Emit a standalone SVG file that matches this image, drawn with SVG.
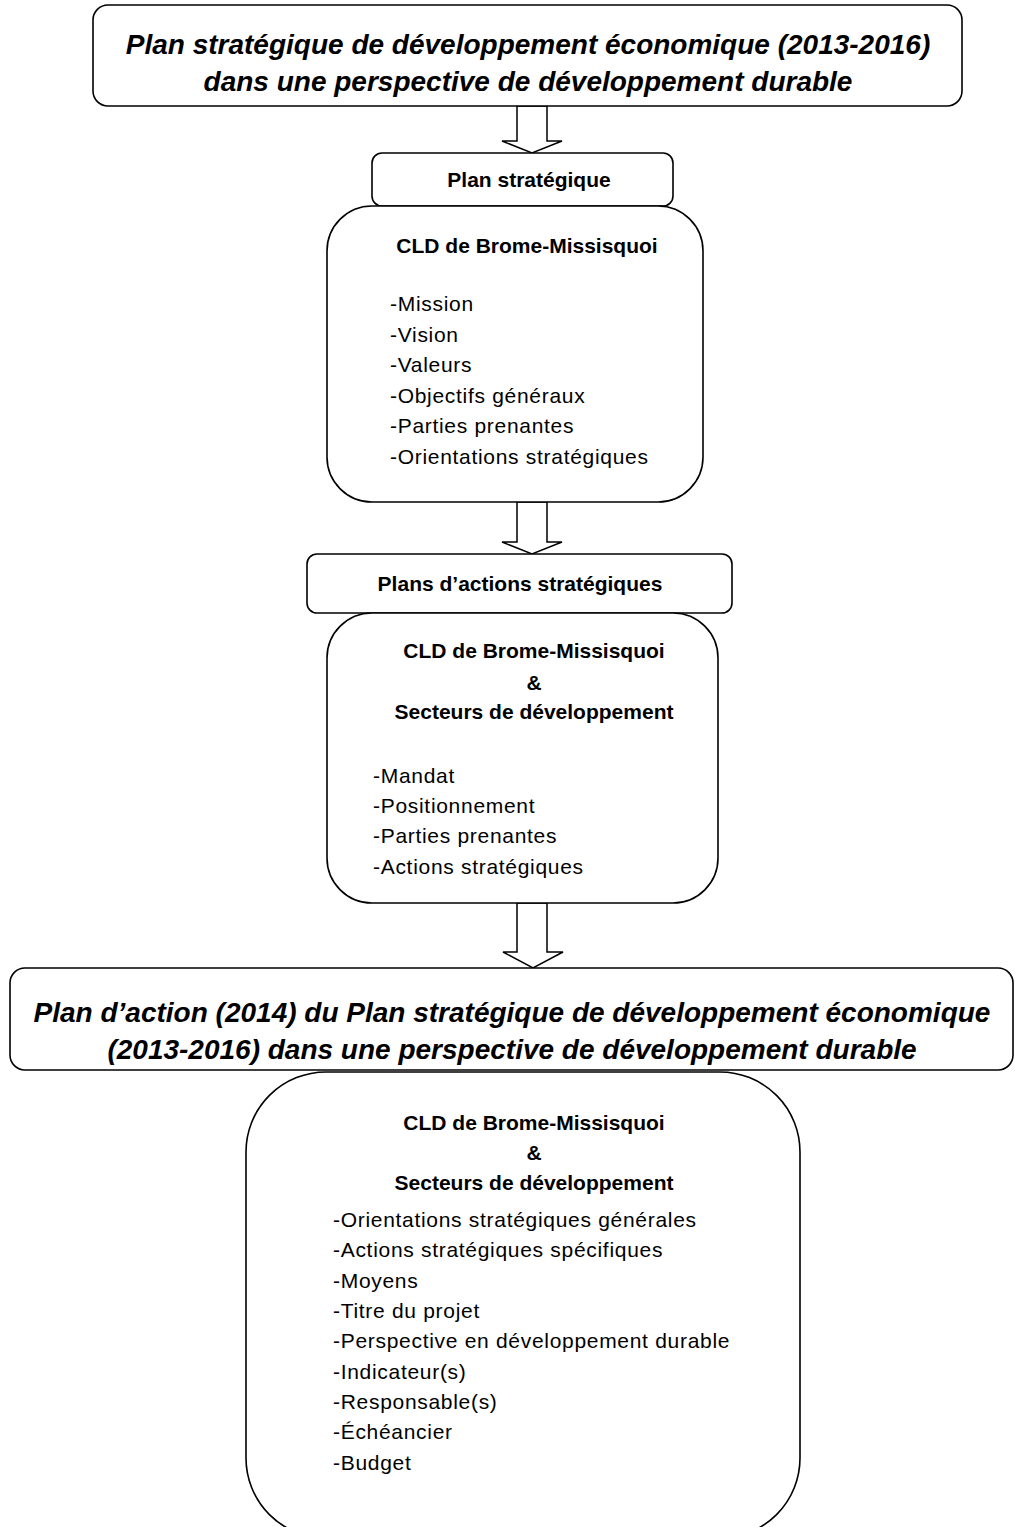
<svg xmlns="http://www.w3.org/2000/svg" width="1015" height="1527" viewBox="0 0 1015 1527">
<style>
.box{fill:#fff;stroke:#000;stroke-width:1.6}
.arrow{fill:#fff;stroke:#000;stroke-width:1.5;stroke-linejoin:miter}
.title{font-family:"Liberation Sans",Arial,sans-serif;font-size:28px;font-weight:700;font-style:italic;fill:#000;text-anchor:middle}
.hdr{font-family:"Liberation Sans",Arial,sans-serif;font-size:21px;font-weight:700;fill:#000;text-anchor:middle}
.item{font-family:"Liberation Sans",Arial,sans-serif;font-size:21px;letter-spacing:0.7px;fill:#000}
</style>
<rect width="1015" height="1527" fill="#fff"/>
<g id="connectors">
<polygon class="arrow" points="517,106 547,106 547,141 562,141 532,153 502,141 517,141"/>
<polygon class="arrow" points="517,502 547,502 547,542 562,542 532,554 502,542 517,542"/>
<polygon class="arrow" points="517,903 547,903 547,952 563,952 533,968 503,952 517,952"/>
</g>
<g id="title-top">
<rect class="box" x="93" y="5" width="869" height="101" rx="15"/>
<text class="title" x="528" y="54">Plan stratégique de développement économique (2013-2016)</text>
<text class="title" x="528" y="91">dans une perspective de développement durable</text>
</g>
<g id="plan-strategique">
<rect class="box" x="372" y="153" width="301" height="53" rx="10"/>
<text class="hdr" x="529" y="187">Plan stratégique</text>
</g>
<g id="cld-1">
<rect class="box" x="327" y="206" width="376" height="296" rx="45"/>
<text class="hdr" x="527" y="253">CLD de Brome-Missisquoi</text>
<text class="item" x="390" y="311">-Mission</text>
<text class="item" x="390" y="342">-Vision</text>
<text class="item" x="390" y="372">-Valeurs</text>
<text class="item" x="390" y="403">-Objectifs généraux</text>
<text class="item" x="390" y="433">-Parties prenantes</text>
<text class="item" x="390" y="464">-Orientations stratégiques</text>
</g>
<g id="plans-actions">
<rect class="box" x="307" y="554" width="425" height="59" rx="10"/>
<text class="hdr" x="520" y="591">Plans d’actions stratégiques</text>
</g>
<g id="cld-2">
<rect class="box" x="327" y="613" width="391" height="290" rx="45"/>
<text class="hdr" x="534" y="658">CLD de Brome-Missisquoi</text>
<text class="hdr" x="534" y="690">&amp;</text>
<text class="hdr" x="534" y="719">Secteurs de développement</text>
<text class="item" x="373" y="783">-Mandat</text>
<text class="item" x="373" y="813">-Positionnement</text>
<text class="item" x="373" y="843">-Parties prenantes</text>
<text class="item" x="373" y="874">-Actions stratégiques</text>
</g>
<g id="cld-3">
<rect class="box" x="246" y="1072" width="554" height="466" rx="80" ry="80"/>
<text class="hdr" x="534" y="1130">CLD de Brome-Missisquoi</text>
<text class="hdr" x="534" y="1160">&amp;</text>
<text class="hdr" x="534" y="1190">Secteurs de développement</text>
<text class="item" x="333" y="1227">-Orientations stratégiques générales</text>
<text class="item" x="333" y="1257">-Actions stratégiques spécifiques</text>
<text class="item" x="333" y="1288">-Moyens</text>
<text class="item" x="333" y="1318">-Titre du projet</text>
<text class="item" x="333" y="1348">-Perspective en développement durable</text>
<text class="item" x="333" y="1379">-Indicateur(s)</text>
<text class="item" x="333" y="1409">-Responsable(s)</text>
<text class="item" x="333" y="1439">-Échéancier</text>
<text class="item" x="333" y="1470">-Budget</text>
</g>
<g id="title-bottom">
<rect class="box" x="10" y="968" width="1003" height="102" rx="15"/>
<text class="title" x="512" y="1022">Plan d’action (2014) du Plan stratégique de développement économique</text>
<text class="title" x="512" y="1059">(2013-2016) dans une perspective de développement durable</text>
</g>
</svg>
